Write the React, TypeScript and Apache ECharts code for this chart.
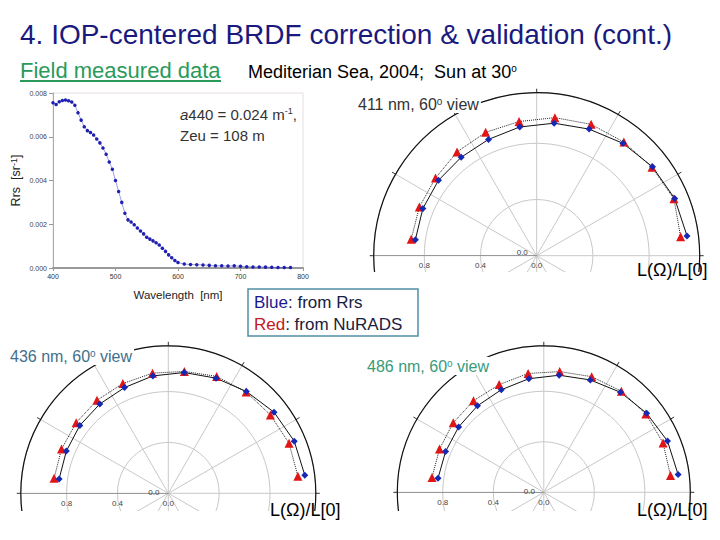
import React, { useEffect, useRef } from 'react';
import * as echarts from 'echarts';

// ---------- Spectrum (field measured Rrs) ----------
const wavelengths = [
  400, 405, 410, 415, 420, 425, 430, 435, 440, 445, 450, 455, 460, 465, 470, 475, 480, 485, 490, 495,
  500, 505, 510, 515, 520, 525, 530, 535, 540, 545, 550, 555, 560, 565, 570, 575, 580, 585, 590, 595,
  600, 610, 620, 630, 640, 650, 660, 670, 680, 690, 700, 710, 720, 730, 740, 750, 760, 770, 780,
];
const rrsValues = [
  0.00755, 0.00747, 0.0076, 0.00766, 0.00768, 0.00765, 0.00759, 0.00744, 0.0071, 0.00676, 0.00646, 0.00628,
  0.00619, 0.00608, 0.0059, 0.00572, 0.00549, 0.0052, 0.00485, 0.00451, 0.004, 0.0035, 0.003, 0.0025, 0.0022,
  0.0021, 0.00198, 0.00183, 0.00169, 0.00156, 0.00141, 0.00132, 0.00124, 0.00115, 0.00105, 0.0009, 0.00076,
  0.0006, 0.00047, 0.00034, 0.00025, 0.00018, 0.00016, 0.00015, 0.00014, 0.00012, 0.0001, 0.0001, 0.00009,
  0.0001, 0.00008, 0.00006, 0.00005, 0.00005, 0.00004, 0.00003, 0.00002, 0.00002, 0.00002,
];

// ---------- Polar plots: L(Ω)/L[0] vs. view azimuth ----------
const viewAngles = [7.5, 22.5, 37.5, 52.5, 67.5, 82.5, 97.5, 112.5, 127.5, 142.5, 157.5, 172.5];

const blue411 = [0.871, 0.877, 0.881, 0.883, 0.896, 0.924, 0.951, 0.975, 1.008, 1.039, 1.063, 1.079];
const red411 = [0.901, 0.904, 0.908, 0.931, 0.95, 0.963, 0.991, 1.012, 1.019, 1.034, 1.057, 1.033];

const blue436 = [0.866, 0.868, 0.877, 0.885, 0.9, 0.931, 0.958, 0.98, 1.009, 1.048, 1.072, 1.083];
const red436 = [0.906, 0.909, 0.913, 0.922, 0.934, 0.953, 0.967, 0.995, 1.005, 1.012, 1.028, 1.028];

const blue486 = [0.845, 0.842, 0.85, 0.863, 0.879, 0.907, 0.935, 0.963, 0.998, 1.027, 1.06, 1.073];
const red486 = [0.893, 0.894, 0.904, 0.914, 0.923, 0.949, 0.964, 0.991, 1.009, 1.019, 1.022, 1.012];

const FONT = '"Liberation Sans", Arial, sans-serif';

export default function App() {
  const ref = useRef<HTMLDivElement>(null);

  useEffect(() => {
    const chart = echarts.init(ref.current!, null, { renderer: 'svg' });

    const panels = [
      { center: [536.7, 255.7], radius: 163, blue: blue411, red: red411, axisZ: 1, seriesZ: 2 },
      { center: [168.3, 493.3], radius: 147.5, blue: blue436, red: red436, axisZ: 6, seriesZ: 8 },
      { center: [543.8, 492.3], radius: 146.5, blue: blue486, red: red486, axisZ: 6, seriesZ: 8 },
    ];

    const polar = panels.map((p) => ({ center: p.center, radius: p.radius }));
    const radiusAxis = panels.map((p, i) => ({
      polarIndex: i,
      type: 'value',
      min: 0,
      max: 1.16,
      interval: 0.4,
      z: p.axisZ,
      axisLine: { show: true, lineStyle: { color: '#999', width: 1 } },
      axisTick: { show: false },
      axisLabel: {
        fontSize: 8,
        color: '#444',
        margin: 6,
        formatter: (v: number) => (v > 1 ? '' : v.toFixed(1)),
      },
      splitLine: { show: true, lineStyle: { color: '#c8c8c8', width: 1 } },
    }));
    const angleAxis = panels.map((p, i) => ({
      polarIndex: i,
      type: 'value',
      min: 0,
      max: 360,
      interval: 30,
      startAngle: 180,
      clockwise: true,
      z: p.axisZ,
      axisLine: { show: true, lineStyle: { color: '#111', width: 1.2 } },
      axisTick: { show: true, length: 4, lineStyle: { color: '#333' } },
      axisLabel: { show: false },
      splitLine: { show: true, lineStyle: { color: '#c8c8c8', width: 1 } },
    }));

    const polarSeries: any[] = [];
    panels.forEach((p, i) => {
      polarSeries.push({
        type: 'line',
        coordinateSystem: 'polar',
        polarIndex: i,
        z: p.seriesZ,
        data: p.red.map((r, k) => [r, viewAngles[k]]),
        symbol: 'triangle',
        symbolSize: 9,
        itemStyle: { color: '#e01515' },
        lineStyle: { color: '#222', width: 1, type: 'dotted' },
      });
      polarSeries.push({
        type: 'line',
        coordinateSystem: 'polar',
        polarIndex: i,
        z: p.seriesZ,
        data: p.blue.map((r, k) => [r, viewAngles[k]]),
        symbol: 'diamond',
        symbolSize: 7,
        itemStyle: { color: '#1428b4' },
        lineStyle: { color: '#111', width: 1 },
      });
    });

    const supRich = {
      s: { fontSize: 10, verticalAlign: 'top', fontFamily: FONT },
    };

    const txt = (x: number, y: number, text: string, size: number, fill: string, extra: any = {}) => ({
      type: 'text',
      x,
      y,
      z: 20,
      style: {
        text,
        fontSize: size,
        fontFamily: FONT,
        fill,
        verticalAlign: 'middle',
        ...extra,
      },
    });

    const graphic: any[] = [
      // crop of the top-right polar (lower half hidden)
      { type: 'rect', z: 5, shape: { x: 366, y: 272, width: 354, height: 160 }, style: { fill: '#fff' } },
      // crop of the bottom polars
      { type: 'rect', z: 9, shape: { x: 0, y: 511, width: 720, height: 29 }, style: { fill: '#fff' } },

      txt(20, 34, '4. IOP-centered BRDF correction & validation (cont.)', 28, '#1a1a7e'),
      txt(20, 70, 'Field measured data', 22, '#2a9a5a'),
      { type: 'line', z: 20, shape: { x1: 20, y1: 81, x2: 221, y2: 81 }, style: { stroke: '#2a9a5a', lineWidth: 2 } },
      txt(248, 72, 'Mediterian Sea, 2004;  Sun at 30{s|o}', 18, '#000', { rich: supRich }),

      txt(180, 114, '{i|a}440 = 0.024 m{s|-1},', 15, '#333', {
        rich: { i: { fontStyle: 'italic', fontSize: 15, fontFamily: FONT }, s: { fontSize: 9, verticalAlign: 'top', fontFamily: FONT } },
      }),
      txt(180, 135, 'Zeu = 108 m', 15, '#333'),

      txt(358, 104, '411 nm, 60{s|o} view', 16, '#333', { rich: supRich, backgroundColor: '#fff', padding: [1, 2, 1, 0] }),
      txt(10, 356, '436 nm, 60{s|o} view', 16, '#41708c', { rich: supRich, backgroundColor: '#fff', padding: [1, 2, 1, 0] }),
      txt(367, 366, '486 nm, 60{s|o} view', 16, '#3a9a7c', { rich: supRich, backgroundColor: '#fff', padding: [1, 2, 1, 0] }),

      txt(637, 270, 'L(Ω)/L[0]', 18, '#000'),
      txt(270, 510, 'L(Ω)/L[0]', 18, '#000'),
      txt(637, 510, 'L(Ω)/L[0]', 18, '#000'),

      // extra "0.0" labels next to each polar centre
      txt(panels[0].center[0] - 20, panels[0].center[1] - 3, '0.0', 8, '#444'),
      txt(panels[1].center[0] - 20, panels[1].center[1] - 1, '0.0', 8, '#444'),
      txt(panels[2].center[0] - 20, panels[2].center[1] - 1, '0.0', 8, '#444'),

      // legend box
      { type: 'rect', z: 20, shape: { x: 248, y: 289, width: 170, height: 47 }, style: { fill: '#fff', stroke: '#4f8fa5', lineWidth: 1.5 } },
      txt(254, 302, '{b|Blue}: from Rrs', 17, '#1a2040', {
        rich: { b: { fill: '#1a1a90', fontSize: 17, fontFamily: FONT } },
      }),
      txt(254, 324, '{r|Red}: from NuRADS', 17, '#1a2040', {
        rich: { r: { fill: '#c02020', fontSize: 17, fontFamily: FONT } },
      }),
    ];

    const option: any = {
      animation: false,
      backgroundColor: '#fff',
      textStyle: { fontFamily: FONT },
      grid: {
        left: 53,
        top: 93,
        width: 250,
        height: 175,
        show: true,
        borderColor: '#e6dede',
        borderWidth: 1,
        backgroundColor: '#fff',
      },
      xAxis: {
        type: 'value',
        min: 400,
        max: 800,
        interval: 100,
        name: 'Wavelength  [nm]',
        nameLocation: 'middle',
        nameGap: 21,
        nameTextStyle: { fontSize: 11.5, color: '#222' },
        axisLine: { lineStyle: { color: '#999', width: 2 } },
        axisTick: { show: true, length: 3, lineStyle: { color: '#999' } },
        axisLabel: { fontSize: 7, color: '#333', margin: 5 },
        splitLine: { show: false },
      },
      yAxis: {
        type: 'value',
        min: 0,
        max: 0.008,
        interval: 0.002,
        name: 'Rrs  [sr{s|-1}]',
        nameLocation: 'middle',
        nameGap: 31,
        nameRotate: 90,
        nameTextStyle: {
          fontSize: 12.5,
          color: '#222',
          rich: { s: { fontSize: 9, verticalAlign: 'top', color: '#222' } },
        },
        axisLine: { show: true, lineStyle: { color: '#aaa', width: 1 } },
        axisTick: { show: true, length: 4, lineStyle: { color: '#999' } },
        axisLabel: { fontSize: 7, color: '#444', margin: 6, formatter: (v: number) => v.toFixed(3) },
        splitLine: { show: false },
      },
      polar,
      radiusAxis,
      angleAxis,
      series: [
        {
          type: 'line',
          data: wavelengths.map((w, k) => [w, rrsValues[k]]),
          symbol: 'circle',
          symbolSize: 3.5,
          itemStyle: { color: '#1f1fb0' },
          lineStyle: { color: '#3030c0', width: 0.8, opacity: 0.6 },
        },
        ...polarSeries,
      ],
      graphic,
    };

    chart.setOption(option);
    return () => chart.dispose();
  }, []);

  return (
    <div
      ref={ref}
      style={{ position: 'fixed', left: 0, top: 0, width: 720, height: 540, background: '#fff' }}
    />
  );
}
